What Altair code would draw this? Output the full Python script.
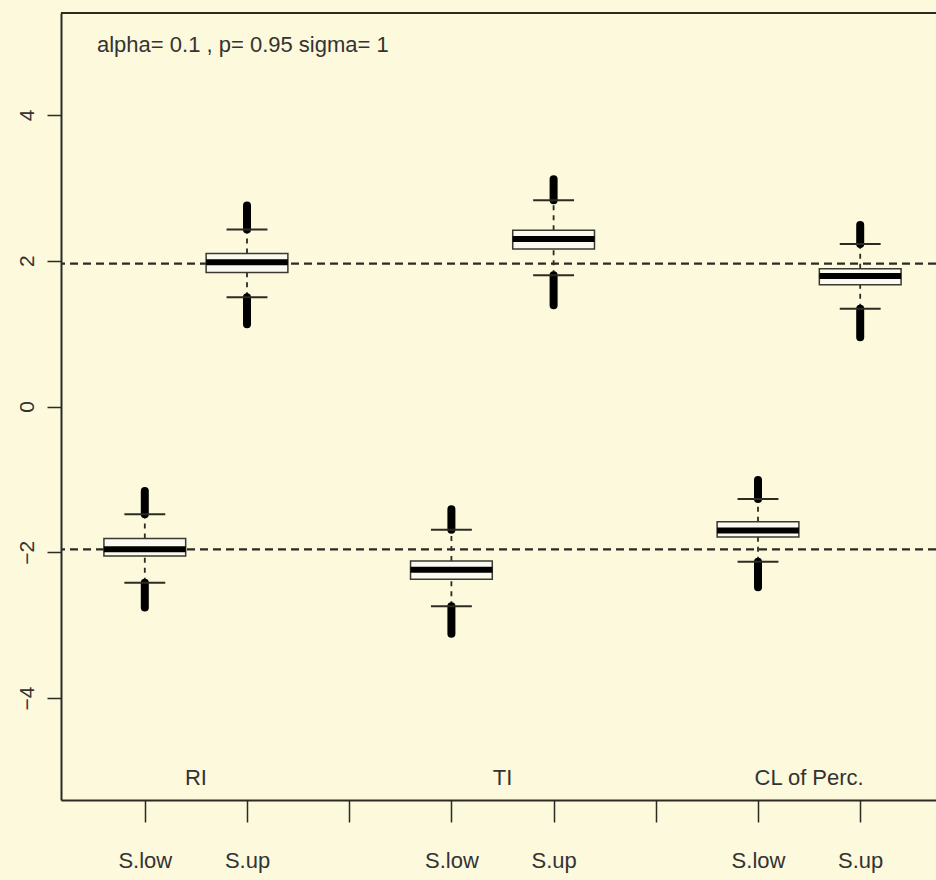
import json
import altair as alt
import pandas as pd

# ---- data ----
positions = [1, 2, 4, 5, 7, 8]
box_min = [-2.76, 1.13, -3.12, 1.39, -2.48, 0.95]
lower_whisker = [-2.42, 1.50, -2.74, 1.80, -2.13, 1.34]
q1 = [-2.05, 1.84, -2.37, 2.16, -1.79, 1.67]
median = [-1.96, 1.98, -2.24, 2.30, -1.70, 1.79]
q3 = [-1.81, 2.10, -2.12, 2.42, -1.58, 1.89]
upper_whisker = [-1.48, 2.43, -1.69, 2.83, -1.27, 2.23]
box_max = [-1.16, 2.76, -1.41, 3.12, -1.01, 2.49]

tick_positions = [1, 2, 3, 4, 5, 6, 7, 8]
tick_labels = ["S.low", "S.up", "", "S.low", "S.up", "", "S.low", "S.up"]
group_names = ["RI", "TI", "CL of Perc."]
group_centers = [1.5, 4.5, 7.5]
ref_levels = [1.96, -1.96]
y_ticks = [-4, -2, 0, 2, 4]
title_text = "alpha= 0.1 , p= 0.95 sigma= 1"

BG = "#fdf9dc"
INK = "#2b2b22"
REG = "Liberation Sans, Arial, sans-serif"

W, H = 875, 787

boxes = pd.DataFrame({
    "pos": positions, "mn": box_min, "lw": lower_whisker, "q1": q1,
    "med": median, "q3": q3, "uw": upper_whisker, "mx": box_max,
})
refs = pd.DataFrame({"v": ref_levels})
groups = pd.DataFrame({"pos": group_centers, "name": group_names})

xscale = alt.Scale(domain=[0.18, 0.18 + W / 102.2], nice=False, zero=False)
yscale = alt.Scale(domain=[-5.4, 5.4], nice=False, zero=False)

label_expr = json.dumps(tick_labels) + "[datum.value - 1]"
xaxis = alt.Axis(values=tick_positions, labelExpr=label_expr, title=None, grid=False,
                 domainColor=INK, domainWidth=2, tickColor=INK, tickWidth=1.5, tickSize=22,
                 labelFont=REG, labelFontSize=22, labelColor="#333333",
                 labelPadding=28, labelBaseline="top", labelFlush=False)
yaxis = alt.Axis(values=y_ticks, title=None, grid=False, labelAngle=270,
                 domainColor=INK, domainWidth=2, tickColor=INK, tickWidth=1.5, tickSize=14,
                 labelFont=REG, labelFontSize=21, labelColor="#333333",
                 labelPadding=10, labelAlign="center", labelBaseline="bottom", labelFlush=False)


def X(field):
    return alt.X(field, type="quantitative", scale=xscale, axis=xaxis)


def Y(field):
    return alt.Y(field, type="quantitative", scale=yscale, axis=yaxis)


base = alt.Chart(boxes).transform_calculate(
    xl="datum.pos - 0.4", xr="datum.pos + 0.4",
    cl="datum.pos - 0.2", cr="datum.pos + 0.2",
)

ref_lines = alt.Chart(refs).mark_rule(color=INK, strokeWidth=2.2, strokeDash=[8, 5]).encode(
    y=Y("v")
)

whisk_up = base.mark_rule(color=INK, strokeWidth=1.8, strokeDash=[5, 5]).encode(
    x=X("pos"), y=Y("q3"), y2="uw")
whisk_lo = base.mark_rule(color=INK, strokeWidth=1.8, strokeDash=[5, 5]).encode(
    x=X("pos"), y=Y("lw"), y2="q1")

out_up = base.mark_rule(color="#000000", strokeWidth=8, strokeCap="round").encode(
    x=X("pos"), y=Y("uw"), y2="mx")
out_lo = base.mark_rule(color="#000000", strokeWidth=8, strokeCap="round").encode(
    x=X("pos"), y=Y("mn"), y2="lw")

cap_up = base.mark_rule(color=INK, strokeWidth=2).encode(x=X("cl"), x2="cr", y=Y("uw"))
cap_lo = base.mark_rule(color=INK, strokeWidth=2).encode(x=X("cl"), x2="cr", y=Y("lw"))

box = base.mark_rect(fill="#fbfaf0", stroke="#3a3a30", strokeWidth=1.5).encode(
    x=X("xl"), x2="xr", y=Y("q1"), y2="q3")
med = base.mark_rule(color="#000000", strokeWidth=6).encode(x=X("xl"), x2="xr", y=Y("med"))

glabels = alt.Chart(groups).mark_text(
    font=REG, fontSize=22, color="#333333", baseline="middle", align="center"
).encode(x=X("pos"), y=alt.value(765), text="name:N")

title = alt.Chart(pd.DataFrame({"t": [title_text]})).mark_text(
    font=REG, fontSize=22, color="#333333", baseline="middle", align="left"
).encode(x=alt.value(36), y=alt.value(32), text="t:N")

top_border = alt.Chart(pd.DataFrame({"a": [0]})).mark_rule(color=INK, strokeWidth=2).encode(
    y=alt.value(0))

chart = alt.layer(
    ref_lines, whisk_up, whisk_lo, out_up, out_lo, cap_up, cap_lo, box, med,
    glabels, title, top_border
).properties(
    width=W, height=H,
    background=BG,
    padding={"left": 61, "top": 13, "right": 0, "bottom": 80},
    autosize=alt.AutoSizeParams(type="none"),
).configure_view(stroke=None)

chart.save("out.html", embed_options={"renderer": "svg", "actions": False})
